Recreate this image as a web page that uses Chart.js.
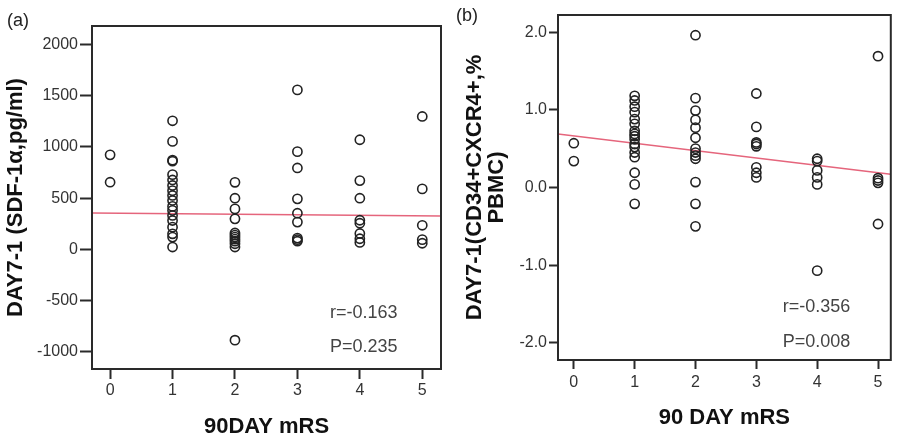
<!DOCTYPE html>
<html><head><meta charset="utf-8">
<script src="https://cdn.jsdelivr.net/npm/chart.js@4"></script>
<style>
html,body{margin:0;padding:0;background:#fff;width:897px;height:440px;overflow:hidden;}
.box{position:absolute;top:0;height:440px;}
#wa{left:0;width:450px;} #wb{left:450px;width:447px;}
.tag{position:absolute;font:18px "Liberation Sans",Arial,sans-serif;color:#222;line-height:1;}
</style></head><body>
<div id="wa" class="box"><canvas id="ca" width="450" height="440"></canvas></div>
<div id="wb" class="box"><canvas id="cb" width="447" height="440"></canvas></div>
<div class="tag" style="left:7px;top:11px">(a)</div>
<div class="tag" style="left:456px;top:6px">(b)</div>
<script>
// ---- data ----
const mrsCategories = [0, 1, 2, 3, 4, 5];
const xTickLabels = [0, 1, 2, 3, 4, 5];

// Panel (a): DAY7-1 SDF-1α (pg/ml) by 90-day mRS
const sdf_mrs0 = [922, 655];
const sdf_mrs1 = [1254, 1053, 870, 860, 729, 677, 623, 573, 526, 477, 419, 380, 331, 282, 217, 152, 120, 23];
const sdf_mrs2 = [654, 499, 395, 298, 160, 140, 120, 100, 80, 55, 23, -885];
const sdf_mrs3 = [1555, 953, 794, 493, 353, 266, 110, 95, 80];
const sdf_mrs4 = [1069, 671, 499, 284, 255, 155, 104, 68];
const sdf_mrs5 = [1296, 590, 235, 95, 60];
const sdfTicks = [-1000, -500, 0, 500, 1000, 1500, 2000];
const sdfFitEnds = [355, 325];           // fit line value at left / right edge
const sdfStats = ['r=-0.163', 'P=0.235'];

// Panel (b): DAY7-1 CD34+CXCR4+ (% PBMC) by 90-day mRS
const cd34_mrs0 = [0.57, 0.34];
const cd34_mrs1 = [1.18, 1.12, 1.04, 0.97, 0.88, 0.82, 0.73, 0.69, 0.66, 0.62, 0.56, 0.52, 0.45, 0.39, 0.19, 0.04, -0.21];
const cd34_mrs2 = [1.96, 1.15, 0.99, 0.87, 0.77, 0.64, 0.50, 0.45, 0.41, 0.37, 0.07, -0.21, -0.50];
const cd34_mrs3 = [1.21, 0.78, 0.58, 0.56, 0.53, 0.26, 0.19, 0.13];
const cd34_mrs4 = [0.37, 0.34, 0.22, 0.13, 0.04, -1.07];
const cd34_mrs5 = [1.69, 0.12, 0.09, 0.06, -0.47];
const cd34Ticks = [-2, -1, 0, 1, 2];
const cd34FitEnds = [0.69, 0.17];
const cd34Stats = ['r=-0.356', 'P=0.008'];

// ---- drawing ----
const FAM = '"Liberation Sans", Arial, Helvetica, sans-serif';
Chart.defaults.font.family = FAM;

function points(groups) {
  const out = [];
  groups.forEach((arr, i) => arr.forEach(v => out.push({x: mrsCategories[i], y: v})));
  return out;
}

const framePlugin = {
  id: 'frame',
  afterDraw(chart, args, opts) {
    const {ctx, chartArea: a} = chart;
    ctx.save();
    ctx.strokeStyle = '#2a2a2a';
    ctx.lineWidth = 2;
    ctx.strokeRect(a.left, a.top, a.right - a.left, a.bottom - a.top);
    ctx.fillStyle = '#444';
    ctx.font = '18px ' + FAM;
    ctx.textBaseline = 'middle';
    ctx.textAlign = 'left';
    ctx.fillText(opts.stats[0], a.right - opts.dx, a.bottom - opts.dy1);
    ctx.fillText(opts.stats[1], a.right - opts.dx, a.bottom - opts.dy2);
    ctx.restore();
  }
};

function makeChart(id, p) {
  return new Chart(document.getElementById(id), {
    type: 'scatter',
    data: {
      datasets: [
        {
          type: 'line',
          data: [{x: p.xmin, y: p.fit[0]}, {x: p.xmax, y: p.fit[1]}],
          borderColor: '#e5657c', borderWidth: 1.5, pointRadius: 0, fill: false, order: 2
        },
        {
          data: points(p.groups),
          pointRadius: 4.6, pointBorderWidth: 1.6,
          pointBackgroundColor: 'rgba(0,0,0,0)', pointBorderColor: '#222',
          backgroundColor: 'rgba(0,0,0,0)', borderColor: '#222', order: 1
        }
      ]
    },
    options: {
      responsive: false, animation: false, devicePixelRatio: 1,
      layout: {padding: {top: p.padTop, right: p.padRight, left: 0, bottom: 0}},
      plugins: {legend: {display: false}, tooltip: {enabled: false},
        frame: {stats: p.stats, dx: p.sdx, dy1: p.sdy1, dy2: p.sdy2}},
      scales: {
        x: {
          type: 'linear', min: p.xmin, max: p.xmax,
          afterBuildTicks: s => { s.ticks = xTickLabels.map(v => ({value: v})); },
          afterFit: s => { s.height = p.xh; },
          grid: {drawOnChartArea: false, drawTicks: true, tickLength: p.xtl, tickWidth: 2, tickColor: '#2a2a2a'},
          border: {display: false},
          ticks: {font: {size: 16}, color: '#333', padding: p.xpad, maxRotation: 0, callback: v => String(v)},
          title: {display: true, text: p.xtitle, color: '#111',
            font: {size: 22, weight: 'bold'}, padding: {top: 0, bottom: p.xtpad}}
        },
        y: {
          type: 'linear', min: p.ymin, max: p.ymax,
          afterBuildTicks: s => { s.ticks = p.yticks.map(v => ({value: v})); },
          afterFit: s => { s.width = p.yw; },
          grid: {drawOnChartArea: false, drawTicks: true, tickLength: p.ytl, tickWidth: 2, tickColor: '#2a2a2a'},
          border: {display: false},
          ticks: {font: {size: 16}, color: '#333', padding: 2, callback: p.yfmt},
          title: {display: true, text: p.ytitle, color: '#111',
            font: {size: 22, weight: 'bold', lineHeight: p.ylh}, padding: {top: p.ytpad, bottom: 0}}
        }
      }
    },
    plugins: [framePlugin]
  });
}

makeChart('ca', {
  groups: [sdf_mrs0, sdf_mrs1, sdf_mrs2, sdf_mrs3, sdf_mrs4, sdf_mrs5],
  fit: sdfFitEnds, stats: sdfStats,
  xmin: -0.29, xmax: 5.30, ymin: -1166, ymax: 2178, yticks: sdfTicks,
  padTop: 26, padRight: 9, yw: 92, xh: 71,
  xtl: 10, xpad: 2, ytl: 12, xtpad: 0, ytpad: 3, ylh: 1.2,
  xtitle: '90DAY mRS', ytitle: 'DAY7-1 (SDF-1α,pg/ml)',
  yfmt: v => String(v),
  sdx: 111, sdy1: 56, sdy2: 22
});

makeChart('cb', {
  groups: [cd34_mrs0, cd34_mrs1, cd34_mrs2, cd34_mrs3, cd34_mrs4, cd34_mrs5],
  fit: cd34FitEnds, stats: cd34Stats,
  xmin: -0.26, xmax: 5.21, ymin: -2.22, ymax: 2.22, yticks: cd34Ticks,
  padTop: 15, padRight: 2, yw: 108, xh: 80,
  xtl: 9, xpad: 4, ytl: 9, xtpad: 9, ytpad: 14, ylh: 1.0,
  xtitle: '90 DAY mRS', ytitle: ['DAY7-1(CD34+CXCR4+,%', 'PBMC)'],
  yfmt: v => v.toFixed(1),
  sdx: 108, sdy1: 53, sdy2: 18
});
</script>
</body></html>
